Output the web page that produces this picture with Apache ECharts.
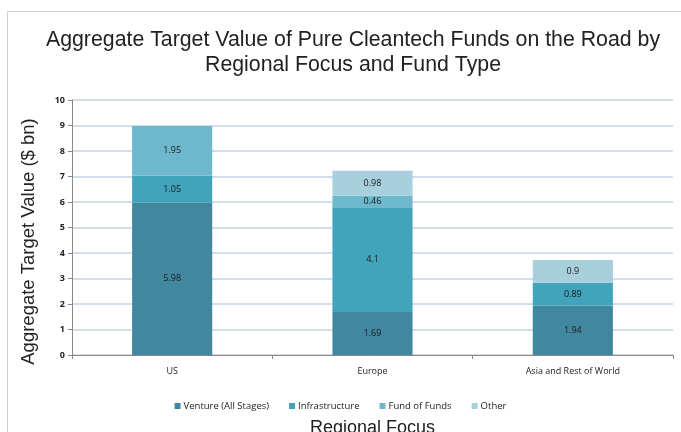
<!DOCTYPE html>
<html>
<head>
<meta charset="utf-8">
<script src="https://cdn.jsdelivr.net/npm/echarts@6/dist/echarts.min.js"></script>
<style>
  html, body { margin: 0; padding: 0; background: #fff; }
  #chart { width: 681px; height: 432px; }
</style>
</head>
<body>
<div id="chart"></div>
<script>
var chart = echarts.init(document.getElementById("chart"));

// categories and fund type values ($ bn)
var regions = ['US', 'Europe', 'Asia and Rest of World'];
var venture = [5.98, 1.69, 1.94];
var infrastructure = [1.05, 4.1, 0.89];
var fundOfFunds = [1.95, 0.46, 0];
var other = [0, 0.98, 0.9];

var colors = ['#41879f', '#42a3bd', '#6eb8cd', '#a8cfdc'];

function makeSeries(name, data) {
    return {
        name: name,
        type: 'bar',
        stack: 'total',
        barWidth: '40%',
        data: data,
        label: {
            show: true,
            position: 'inside',
            color: '#1a1a1a',
            fontSize: 9,
            fontFamily: 'Open Sans',
            formatter: function (p) { return p.value === 0 ? '' : p.value; }
        }
    };
}

var option = {
    color: colors,
    animation: false,
    title: {
        text: 'Aggregate Target Value of Pure Cleantech Funds on the Road by\nRegional Focus and Fund Type',
        left: 348,
        textAlign: 'center',
        top: 23,
        textStyle: {
            fontFamily: 'Liberation Sans',
            fontWeight: 'normal',
            fontSize: 21.3,
            lineHeight: 25,
            color: '#222'
        }
    },
    graphic: [{
        type: 'rect',
        shape: { x: 7.5, y: 11.5, width: 690, height: 440 },
        style: { fill: 'none', stroke: '#d0d0d0', lineWidth: 1 },
        silent: true
    }],
    legend: {
        data: ['Venture (All Stages)', 'Infrastructure', 'Fund of Funds', 'Other'],
        left: 'center',
        top: 396,
        itemWidth: 6,
        itemHeight: 6,
        itemGap: 20,
        icon: 'rect',
        textStyle: { fontSize: 9.5, fontFamily: 'Open Sans', color: '#222', padding: [0, 0, 0, -2] }
    },
    grid: { left: 72, right: 8, top: 100, bottom: 77, outerBoundsMode: 'none' },
    xAxis: {
        type: 'category',
        data: regions,
        name: 'Regional Focus',
        nameLocation: 'middle',
        nameGap: 64,
        nameTextStyle: { fontFamily: 'Liberation Sans', fontSize: 18, color: '#222' },
        axisLine: { lineStyle: { color: '#888' } },
        axisTick: { show: true, alignWithLabel: false, length: 4, lineStyle: { color: '#888' } },
        axisLabel: { fontSize: 9, fontFamily: 'Open Sans', color: '#222', margin: 12 }
    },
    yAxis: {
        type: 'value',
        min: 0,
        max: 10,
        interval: 1,
        name: 'Aggregate Target Value ($ bn)',
        nameLocation: 'middle',
        nameGap: 34,
        nameTextStyle: { fontFamily: 'Liberation Sans', fontSize: 18.5, color: '#222', padding: [0, 28, 0, 0] },
        axisLine: { show: true, lineStyle: { color: '#888' } },
        axisTick: { show: true, length: 4, lineStyle: { color: '#888' } },
        axisLabel: { fontSize: 9, fontFamily: 'Open Sans', fontWeight: 'bold', color: '#222', margin: 7 },
        splitLine: { lineStyle: { color: '#c3d3e8', width: 1.5 } }
    },
    series: [
        makeSeries('Venture (All Stages)', venture),
        makeSeries('Infrastructure', infrastructure),
        makeSeries('Fund of Funds', fundOfFunds),
        makeSeries('Other', other)
    ]
};

chart.setOption(option);
</script>
</body>
</html>
